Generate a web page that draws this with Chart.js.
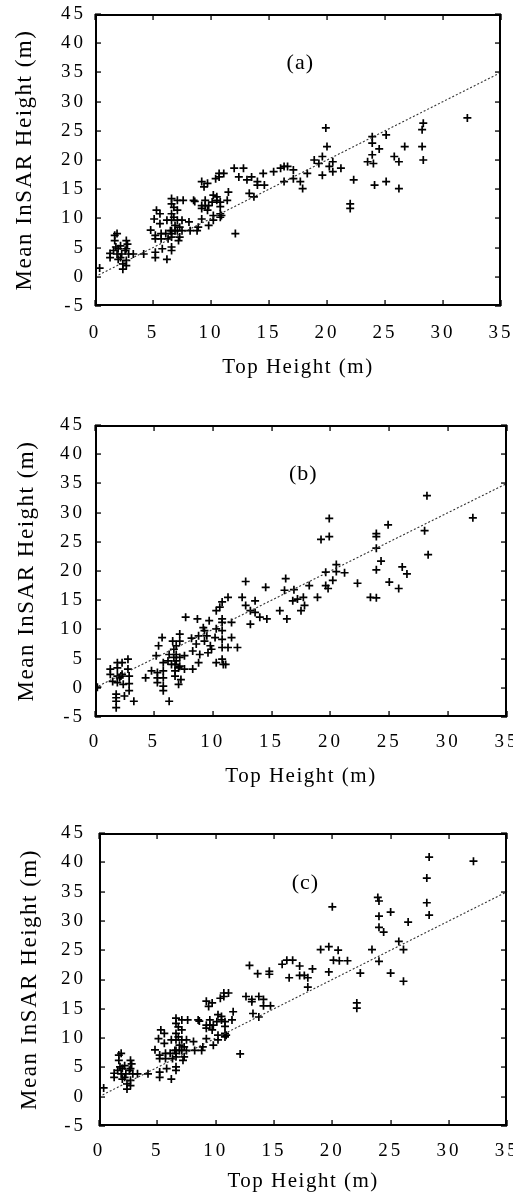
<!DOCTYPE html>
<html>
<head>
<meta charset="utf-8">
<script src="https://cdn.jsdelivr.net/npm/chart.js@4"></script>
<style>
  body { margin: 0; background: #fff; }
  .panel { position: absolute; left: 0; width: 513px; height: 400px; }
</style>
</head>
<body>
<div class="panel" style="top:0"><canvas id="chartA" width="513" height="400"></canvas></div>
<div class="panel" style="top:400px"><canvas id="chartB" width="513" height="400"></canvas></div>
<div class="panel" style="top:800px"><canvas id="chartC" width="513" height="400"></canvas></div>
<script>
// [top height, mean InSAR height] pairs
const pointsA = [
  [0.4,1.5],[1.3,4.0],[1.3,3.3],[1.7,7.1],[1.9,7.4],[1.7,6.2],[1.8,5.1],[1.9,3.9],[2.0,3.0],[1.6,4.5],
  [2.2,5.3],[2.3,3.9],[2.4,2.2],[2.4,1.3],[2.7,2.8],[2.7,1.9],[2.7,6.2],[2.8,5.6],[2.7,4.8],[2.9,3.9],
  [2.6,4.5],[3.3,3.9],[4.2,3.9],[2.0,4.8],[2.2,3.3],
  [4.8,8.0],[5.1,9.9],[5.2,7.1],[5.2,6.5],[5.2,4.2],[5.2,3.3],[5.3,11.4],[5.6,10.8],[5.6,9.1],[5.7,7.4],
  [5.7,6.5],[5.8,4.8],[6.1,7.4],[6.2,9.7],[6.2,3.0],[6.3,6.5],[6.5,7.9],[6.6,13.4],[6.6,12.5],[6.6,10.8],
  [6.6,9.7],[6.6,7.9],[6.6,7.4],[6.6,6.8],[6.6,5.1],[6.6,4.5],[6.8,11.9],[6.8,10.2],[6.9,8.8],[6.9,7.9],
  [7.1,13.1],[7.1,11.4],[7.1,9.7],[7.1,7.9],[7.2,6.2],[7.3,6.8],[7.3,8.5],[7.5,9.7],[7.5,7.9],[7.6,13.1],
  [8.1,9.4],[8.2,7.9],[8.5,13.1],[8.6,12.9],[8.8,7.9],[8.9,8.5],
  [9.2,16.3],[9.4,15.4],[9.2,12.2],[9.2,11.7],[9.2,9.9],[9.5,13.1],[9.5,12.2],[9.7,16.0],[9.7,11.4],[9.8,12.2],
  [9.8,8.8],[10.1,12.8],[10.2,14.0],[10.2,9.7],[10.4,16.8],[10.5,13.7],[10.5,13.1],[10.7,17.1],[10.7,17.7],[10.8,10.8],
  [10.8,10.2],[10.8,12.0],[10.8,12.8],[10.9,10.5],[11.1,17.7],[11.4,13.1],[11.5,14.5],[10.2,10.5],
  [12.0,18.6],[12.1,7.4],[12.4,17.1],[12.8,18.6],[13.1,16.6],[13.3,14.3],[13.5,17.1],[13.7,13.7],[14.0,15.7],[14.0,16.3],
  [14.5,17.7],[14.6,15.7],[15.4,18.0],[16.0,18.6],[16.3,18.9],[16.6,18.9],[16.3,16.3],[17.1,18.3],[17.1,16.8],[17.7,16.3],
  [17.9,15.1],[18.3,17.7],[18.9,20.0],[19.3,19.4],[19.6,20.6],[19.6,17.4],[19.9,25.5],[20.0,22.3],[20.2,18.9],[20.5,19.7],
  [20.5,18.0],[21.2,18.6],[22.0,12.5],[22.0,11.7],[22.3,16.6],[23.5,19.7],[23.9,24.0],[23.9,22.9],[23.9,20.9],[24.0,19.4],
  [24.1,15.7],[24.5,21.9],[25.1,24.3],[25.1,16.3],[25.8,20.6],[26.2,19.7],[26.2,15.1],[26.7,22.3],[28.2,25.2],[28.2,22.3],
  [28.3,26.3],[28.3,20.0],[32.1,27.2]
];

const pointsB = [
  [0.2,0.1],[1.3,3.2],[1.3,2.3],[1.5,1.1],[1.8,-1.1],[1.8,-1.7],[1.8,-2.3],[1.8,-3.4],[1.9,4.3],[1.9,3.4],
  [1.9,2.0],[1.9,0.9],[2.1,1.7],[2.2,2.0],[2.3,4.3],[2.3,2.3],[2.4,0.6],[2.5,-1.4],[2.8,4.9],[2.8,3.2],
  [2.9,2.0],[2.9,0.7],[2.9,-0.5],[3.3,-2.3],[4.3,1.7],[4.8,2.9],[5.2,5.5],[5.3,2.6],[5.3,1.7],[5.3,0.9],
  [5.4,7.2],[5.7,8.6],[5.8,4.3],[5.8,2.9],[5.8,1.7],[5.8,0.3],[5.8,-0.5],[6.2,4.6],[6.3,-2.3],[6.3,5.7],
  [6.5,4.0],[6.6,8.0],[6.7,6.6],[6.7,5.2],[6.8,4.0],[6.8,2.9],[6.8,2.0],[6.9,7.2],[6.9,5.7],[6.9,4.6],
  [7.1,3.4],[7.1,0.6],[7.2,9.2],[7.2,8.0],[7.2,5.2],[7.2,3.7],[7.3,1.4],[7.6,5.5],[7.6,3.2],[7.7,12.1],
  [8.2,8.5],[8.3,6.3],[8.3,3.2],[8.6,7.5],[8.7,11.8],[8.8,4.3],[8.8,8.9],[8.9,5.7],[9.2,10.3],[9.3,9.8],
  [9.3,8.0],[9.5,8.9],[9.6,6.0],[9.7,11.5],[9.8,7.2],[9.9,6.6],[10.2,8.6],[10.3,10.1],[10.3,13.2],[10.3,4.3],
  [10.6,13.8],[10.8,14.7],[10.8,11.8],[10.8,11.2],[10.8,9.8],[10.8,8.3],[10.8,6.9],[10.8,4.9],[10.9,4.0],[11.1,4.0],
  [11.3,15.5],[11.3,6.9],[11.6,11.2],[11.6,8.6],[12.1,6.9],[12.5,15.5],[12.8,18.2],[12.8,14.1],[13.2,10.9],[13.2,13.2],
  [13.6,12.9],[13.6,14.9],[14.0,12.1],[14.5,17.2],[14.6,11.8],[15.7,13.2],[16.1,16.7],[16.2,18.7],[16.3,11.8],[16.9,16.8],
  [16.8,14.9],[17.2,15.2],[17.5,13.2],[17.7,15.5],[17.8,14.1],[18.2,17.5],[18.9,15.5],[19.2,25.4],[19.6,19.8],[19.6,17.5],
  [19.8,17.0],[19.9,29.0],[19.9,25.9],[20.2,18.4],[20.5,21.1],[20.5,19.9],[21.2,19.7],[22.3,17.9],[23.4,15.5],[23.9,26.4],
  [23.9,25.9],[23.9,23.9],[23.9,20.2],[23.9,15.4],[24.3,21.7],[24.9,27.9],[25.0,18.1],[25.8,17.0],[26.1,20.7],[26.5,19.5],
  [28.0,26.9],[28.2,32.9],[28.3,22.8],[32.1,29.1]
];

const pointsC = [
  [0.4,1.5],[1.3,4.0],[1.3,3.3],[1.7,7.1],[1.9,7.4],[1.7,6.2],[1.8,5.1],[1.9,3.9],[2.0,3.0],[1.6,4.5],
  [2.2,5.3],[2.3,3.9],[2.4,2.2],[2.4,1.3],[2.7,2.8],[2.7,1.9],[2.7,6.2],[2.8,5.6],[2.7,4.8],[2.9,3.9],
  [2.6,4.5],[3.3,3.9],[4.2,3.9],[2.0,4.8],[2.2,3.3],
  [4.8,8.0],[5.1,9.9],[5.2,7.1],[5.2,6.5],[5.2,4.2],[5.2,3.3],[5.3,11.4],[5.6,10.8],[5.6,9.1],[5.7,7.4],
  [5.7,6.5],[5.8,4.8],[6.1,7.4],[6.2,9.7],[6.2,3.0],[6.3,6.5],[6.5,7.9],[6.6,13.4],[6.6,12.5],[6.6,10.8],
  [6.6,9.7],[6.6,7.9],[6.6,7.4],[6.6,6.8],[6.6,5.1],[6.6,4.5],[6.8,11.9],[6.8,10.2],[6.9,8.8],[6.9,7.9],
  [7.1,13.1],[7.1,11.4],[7.1,9.7],[7.1,7.9],[7.2,6.2],[7.3,6.8],[7.3,8.5],[7.5,9.7],[7.5,7.9],[7.6,13.1],
  [8.1,9.4],[8.2,7.9],[8.5,13.1],[8.6,12.9],[8.8,7.9],[8.9,8.5],
  [9.2,16.3],[9.4,15.4],[9.2,12.2],[9.2,11.7],[9.2,9.9],[9.5,13.1],[9.5,12.2],[9.7,16.0],[9.7,11.4],[9.8,12.2],
  [9.8,8.8],[10.1,12.8],[10.2,14.0],[10.2,9.7],[10.4,16.8],[10.5,13.7],[10.5,13.1],[10.7,17.1],[10.7,17.7],[10.8,10.8],
  [10.8,10.2],[10.8,12.0],[10.8,12.8],[10.9,10.5],[11.1,17.7],[11.4,13.1],[11.5,14.5],[10.2,10.5],[12.1,7.3],
  [12.9,22.4],[13.6,21.0],[14.6,21.4],[14.6,20.9],[12.6,17.1],[13.1,16.6],[13.1,16.2],[13.7,17.1],[14.1,16.6],[14.1,15.5],
  [14.7,15.5],[13.2,14.2],[13.7,13.6],[15.7,22.6],[16.1,23.3],[16.6,23.3],[16.3,20.3],[17.2,22.3],[17.2,20.7],[17.6,20.7],
  [17.9,20.3],[18.3,21.8],[17.9,18.7],[19.0,25.1],[19.7,25.6],[20.5,25.0],[20.1,23.3],[20.6,23.2],[21.3,23.2],[19.7,21.3],
  [22.4,21.1],[22.1,16.0],[22.1,15.1],[20.0,32.4],[23.9,34.0],[24.0,33.4],[24.0,30.8],[25.0,31.5],[24.0,28.9],[24.4,28.1],
  [26.5,29.8],[25.7,26.5],[26.1,25.1],[23.4,25.1],[24.0,23.1],[25.0,21.1],[26.1,19.7],[28.3,40.9],[28.1,37.3],[28.1,33.1],
  [28.3,31.0],[32.1,40.2]
];

// dotted 1:1 reference line
const lineX = [0, 35];
const lineY = [0, 35];
const panelLabels = ['(a)', '(b)', '(c)'];

const serif = '"Liberation Serif", "Times New Roman", serif';
const ink = '#000';

// titles are drawn before the datasets, tick labels (z: 1) after them
const framePlugin = {
  id: 'frame',
  beforeDraw(chart) {
    chart.ctx.letterSpacing = '1.5px';
  },
  afterDatasetsDraw(chart) {
    chart.ctx.letterSpacing = '3px';
  },
  afterDraw(chart) {
    const { ctx, chartArea: area, scales: { x, y } } = chart;
    const opts = chart.options.plugins.frame;
    const l = Math.round(area.left), r = Math.round(area.right);
    const t = Math.round(area.top), b = Math.round(area.bottom);
    const w = 2;
    const seg = 6;
    ctx.save();
    ctx.fillStyle = ink;
    // box edges laid down in short pieces, just inside the plot area
    for (let px = l; px < r; px += seg) {
      const len = Math.min(seg, r - px);
      ctx.fillRect(px, t, len, w);
      ctx.fillRect(px, b - w, len, w);
    }
    for (let py = t; py < b; py += seg) {
      const len = Math.min(seg, b - py);
      ctx.fillRect(l, py, w, len);
      ctx.fillRect(r - w, py, w, len);
    }
    // inward tick marks on all four sides
    x.ticks.forEach((tk) => {
      const px = Math.round(x.getPixelForValue(tk.value));
      ctx.fillRect(px - 0.6, b - 6, 1.3, 6);
      ctx.fillRect(px - 0.6, t, 1.3, 6);
    });
    y.ticks.forEach((tk) => {
      const py = Math.round(y.getPixelForValue(tk.value));
      ctx.fillRect(l, py - 0.6, 6, 1.3);
      ctx.fillRect(r - 6, py - 0.6, 6, 1.3);
    });
    ctx.font = '22px ' + serif;
    ctx.textAlign = 'center';
    ctx.textBaseline = 'middle';
    ctx.letterSpacing = '1px';
    ctx.fillText(opts.label, x.getPixelForValue(opts.labelX), y.getPixelForValue(opts.labelY));
    ctx.restore();
  }
};

function makeChart(id, points, label, geo) {
  const canvas = document.getElementById(id);
  return new Chart(canvas, {
    data: {
      datasets: [
        {
          type: 'line',
          data: lineX.map((v, i) => ({ x: v, y: lineY[i] })),
          borderColor: '#333',
          borderWidth: 1.1,
          borderDash: [2, 2],
          pointRadius: 0,
          fill: false
        },
        {
          type: 'scatter',
          data: points.map((p) => ({ x: p[0], y: p[1] })),
          pointStyle: 'cross',
          pointRadius: 4,
          borderColor: '#000',
          backgroundColor: '#000',
          borderWidth: 1.7
        }
      ]
    },
    options: {
      responsive: false,
      animation: false,
      events: [],
      layout: { padding: { left: 0, top: geo.top, right: 513 - geo.right, bottom: 0 } },
      plugins: {
        legend: { display: false },
        tooltip: { enabled: false },
        frame: { label, labelX: 17.7, labelY: 36.5 }
      },
      scales: {
        x: {
          type: 'linear',
          min: 0,
          max: 35,
          grid: { display: false, drawTicks: false },
          border: { display: false },
          ticks: { z: 1, stepSize: 5, color: '#000', padding: geo.xTickPad, maxRotation: 0, font: { family: serif, size: 19 } },
          title: { display: true, text: 'Top Height (m)', color: '#000', padding: { top: 0, bottom: geo.xTitlePad }, font: { family: serif, size: 21 } },
          afterFit(scale) {
            scale.height = 400 - geo.bottom;
            scale.paddingLeft = 0;
            scale.paddingRight = 0;
          }
        },
        y: {
          type: 'linear',
          min: -5,
          max: 45,
          grid: { display: false, drawTicks: false },
          border: { display: false },
          ticks: { z: 1, stepSize: 5, color: '#000', padding: geo.yTickPad, font: { family: serif, size: 19 } },
          title: { display: true, text: 'Mean InSAR Height (m)', color: '#000', padding: { top: geo.yTitlePad, bottom: 0 }, font: { family: serif, size: 23 } },
          afterFit(scale) {
            scale.width = geo.left;
            scale.paddingTop = 0;
            scale.paddingBottom = 0;
          }
        }
      }
    },
    plugins: [framePlugin]
  });
}

makeChart('chartA', pointsA, panelLabels[0], { left: 95, right: 501, top: 14, bottom: 306, xTickPad: 16, xTitlePad: 20, yTickPad: 9, yTitlePad: 11 });
makeChart('chartB', pointsB, panelLabels[1], { left: 95, right: 507, top: 25, bottom: 317, xTickPad: 14, xTitlePad: 11, yTickPad: 10, yTitlePad: 13 });
makeChart('chartC', pointsC, panelLabels[2], { left: 99, right: 508, top: 33, bottom: 326, xTickPad: 14, xTitlePad: 6, yTickPad: 13, yTitlePad: 16 });
</script>
</body>
</html>
